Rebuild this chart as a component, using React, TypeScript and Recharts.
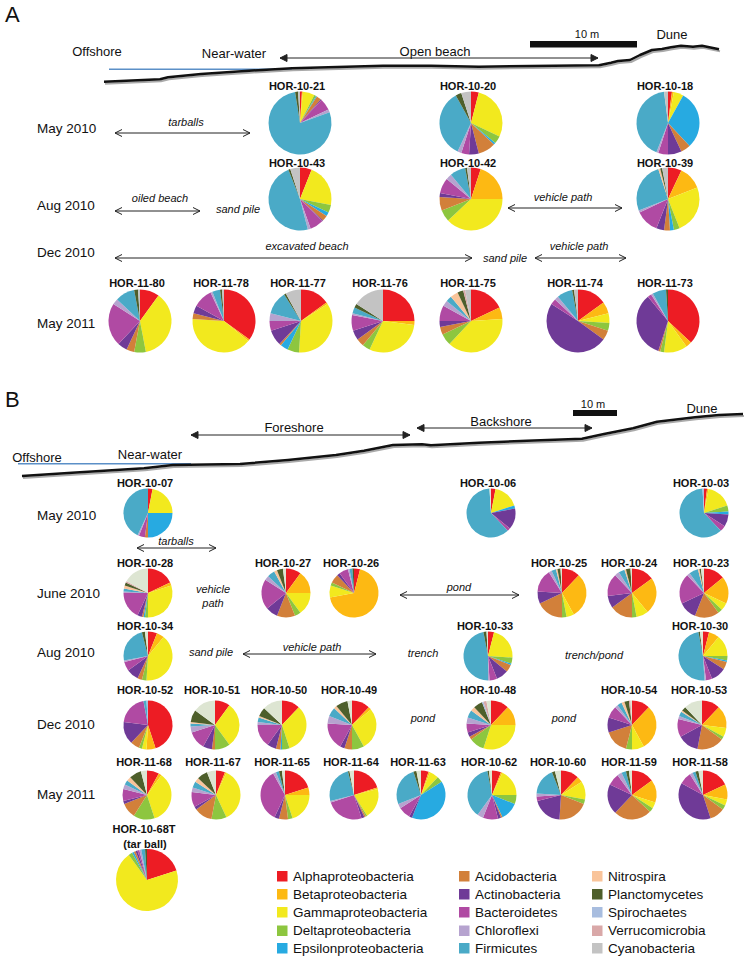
import React from 'react';
import { PieChart, Pie, Cell } from 'recharts';

const CATEGORIES = [
  'Alphaproteobacteria', 'Betaproteobacteria', 'Gammaproteobacteria', 'Deltaproteobacteria',
  'Epsilonproteobacteria', 'Acidobacteria', 'Actinobacteria', 'Bacteroidetes', 'Chloroflexi',
  'Firmicutes', 'Nitrospira', 'Planctomycetes', 'Spirochaetes', 'Verrucomicrobia', 'Cyanobacteria',
];

const COLORS = [
  '#ed1c24', '#fdb913', '#f2e91e', '#8dc63f', '#27aae1', '#d2803a', '#6f3a97', '#b04aa3',
  '#b6a3cf', '#4aaac7', '#f9c49a', '#4e5f2b', '#a8bddf', '#d9a8a8', '#c3c3c3',
];
// panel B draws cyanobacteria in a paler, greenish grey
const CYANO_B = '#dde5d2';

// values follow CATEGORIES order (% of reads)
// Panel A
const A_MAY10_NAMES = ['HOR-10-21', 'HOR-10-20', 'HOR-10-18'];
const A_MAY10_VALUES = [
  [1, 0.5, 6, 1, 0.5, 2.5, 0.5, 6, 1.5, 78, 0, 1.5, 0, 0, 1],
  [4, 0, 28, 4, 1, 9, 5, 4, 2, 35, 0, 3, 0, 0, 5],
  [2, 1, 5, 0, 30, 5, 7, 5, 1, 42, 0, 0, 0, 0, 2],
];
const A_AUG10_NAMES = ['HOR-10-43', 'HOR-10-42', 'HOR-10-39'];
const A_AUG10_VALUES = [
  [6, 0, 22, 4, 2, 3, 0.5, 7, 1.5, 48, 0, 1, 0, 0, 5],
  [5, 20, 38, 6, 0, 7, 2, 8, 3, 8, 0, 1, 0, 0, 2],
  [7, 12, 25, 3, 2, 3, 4, 12, 1, 26, 1, 1, 0, 0, 3],
];
const A_MAY11_NAMES = ['HOR-11-80', 'HOR-11-78', 'HOR-11-77', 'HOR-11-76', 'HOR-11-75', 'HOR-11-74', 'HOR-11-73'];
const A_MAY11_VALUES = [
  [10, 0, 37, 6, 0, 4, 5, 22, 3, 10, 0, 2, 0, 0, 1],
  [35, 1, 40, 0, 0, 3, 4, 10, 1, 4, 0, 1, 0, 0, 1],
  [15, 1, 35, 6, 4, 1, 8, 5, 4, 12, 0, 1, 0, 0, 8],
  [25, 2, 30, 4, 0, 4, 5, 8, 1, 3, 0, 2, 0, 0, 16],
  [18, 6, 38, 6, 0, 4, 3, 8, 3, 3, 4, 3, 0, 1, 3],
  [15, 6, 5, 4, 0, 5, 49, 3, 2, 8, 0, 1, 0, 0, 2],
  [37, 3, 12, 2, 0, 1, 34, 2, 1, 7, 0, 1, 0, 0, 0],
];

// Panel B
const B_MAY10_NAMES = ['HOR-10-07', 'HOR-10-06', 'HOR-10-03'];
const B_MAY10_VALUES = [
  [3, 0, 22, 0, 25, 2, 0, 4, 1, 43, 0, 0, 0, 0, 0],
  [3, 0, 17, 0, 2, 0, 14, 2, 0, 61, 0, 0, 0, 0, 1],
  [2, 1, 17, 4, 2, 0, 8, 4, 0, 61, 0, 0, 1, 0, 0],
];
const B_JUN10_NAMES = ['HOR-10-28', 'HOR-10-27', 'HOR-10-26', 'HOR-10-25', 'HOR-10-24', 'HOR-10-23'];
const B_JUN10_VALUES = [
  [18, 2, 30, 2, 1, 1, 3, 18, 1, 2, 2, 2, 0, 1, 17],
  [10, 15, 15, 4, 0, 12, 8, 20, 3, 5, 2, 4, 0, 0, 2],
  [4, 68, 8, 2, 0, 6, 2, 6, 1, 2, 0, 1, 0, 0, 0],
  [12, 30, 5, 3, 0, 18, 8, 15, 2, 3, 1, 2, 0, 0, 1],
  [15, 24, 8, 3, 0, 15, 8, 15, 3, 4, 1, 3, 0, 0, 1],
  [14, 18, 5, 3, 0, 16, 12, 20, 2, 6, 1, 1, 0, 0, 2],
];
const B_AUG10_NAMES = ['HOR-10-34', 'HOR-10-33', 'HOR-10-30'];
const B_AUG10_VALUES = [
  [6, 5, 40, 3, 0, 3, 8, 6, 1, 24, 0, 2, 0, 0, 2],
  [4, 0, 22, 4, 1, 5, 8, 5, 1, 47, 0, 2, 0, 0, 1],
  [4, 7, 14, 3, 1, 5, 10, 4, 1, 48, 0, 1, 0, 0, 2],
];
const B_DEC10_NAMES = ['HOR-10-52', 'HOR-10-51', 'HOR-10-50', 'HOR-10-49', 'HOR-10-48', 'HOR-10-54', 'HOR-10-53'];
const B_DEC10_VALUES = [
  [45, 6, 3, 2, 0, 6, 15, 20, 0, 2, 0, 0, 1, 0, 0],
  [10, 0, 30, 10, 0, 2, 6, 12, 4, 2, 1, 8, 0, 0, 15],
  [12, 0, 33, 5, 1, 3, 6, 15, 2, 3, 1, 6, 0, 0, 13],
  [12, 2, 28, 8, 0, 5, 3, 18, 5, 6, 2, 8, 0, 0, 3],
  [12, 13, 30, 10, 0, 2, 3, 6, 4, 5, 3, 6, 1, 2, 3],
  [12, 30, 8, 4, 0, 16, 10, 8, 2, 3, 2, 3, 0, 1, 1],
  [12, 15, 6, 2, 0, 18, 14, 12, 2, 3, 1, 3, 0, 0, 12],
];
const B_MAY11_NAMES = ['HOR-11-68', 'HOR-11-67', 'HOR-11-65', 'HOR-11-64', 'HOR-11-63', 'HOR-10-62', 'HOR-10-60', 'HOR-11-59', 'HOR-11-58'];
const B_MAY11_VALUES = [
  [8, 2, 35, 14, 0, 10, 2, 8, 3, 3, 3, 8, 0, 0, 4],
  [6, 1, 36, 10, 0, 12, 2, 10, 3, 4, 3, 7, 0, 0, 6],
  [20, 5, 20, 3, 0, 6, 3, 35, 2, 2, 0, 2, 0, 0, 2],
  [20, 1, 20, 1, 0, 1, 2, 25, 1, 25, 0, 1, 0, 0, 3],
  [5, 1, 6, 4, 40, 0, 2, 8, 3, 26, 0, 2, 0, 0, 3],
  [6, 1, 18, 6, 12, 1, 2, 10, 4, 37, 0, 1, 0, 0, 2],
  [12, 4, 12, 3, 0, 20, 20, 3, 2, 18, 0, 2, 0, 0, 4],
  [15, 15, 4, 3, 0, 25, 20, 8, 3, 3, 0, 2, 0, 0, 2],
  [18, 10, 4, 3, 0, 10, 38, 8, 2, 2, 0, 2, 0, 0, 3],
];
const B_TAR_NAMES = ['HOR-10-68T'];
const B_TAR_VALUES = [[20, 0, 70, 2, 1, 1, 1, 1, 1, 2, 0, 1, 0, 0, 0]];

type Row = {
  names: string[];
  values: number[][];
  xs: number[];
  cy: number;
  r: number;
  labelY: number;
  panel: 'A' | 'B';
};

const ROWS: Row[] = [
  { names: A_MAY10_NAMES, values: A_MAY10_VALUES, xs: [300, 471, 668], cy: 123, r: 31.5, labelY: 86, panel: 'A' },
  { names: A_AUG10_NAMES, values: A_AUG10_VALUES, xs: [300, 471, 668], cy: 199, r: 31.5, labelY: 163, panel: 'A' },
  { names: A_MAY11_NAMES, values: A_MAY11_VALUES, xs: [140, 224, 301, 383, 471, 578, 668], cy: 321, r: 31.5, labelY: 283, panel: 'A' },
  { names: B_MAY10_NAMES, values: B_MAY10_VALUES, xs: [148, 491, 704], cy: 513, r: 24.5, labelY: 483, panel: 'B' },
  { names: B_JUN10_NAMES, values: B_JUN10_VALUES, xs: [148, 286, 354, 562, 632, 704], cy: 593, r: 24.5, labelY: 563, panel: 'B' },
  { names: B_AUG10_NAMES, values: B_AUG10_VALUES, xs: [148, 488, 703], cy: 656, r: 24.5, labelY: 626, panel: 'B' },
  { names: B_DEC10_NAMES, values: B_DEC10_VALUES, xs: [148, 215, 282, 352, 491, 632, 702], cy: 725, r: 24.5, labelY: 690, panel: 'B' },
  { names: B_MAY11_NAMES, values: B_MAY11_VALUES, xs: [147, 216, 285, 354, 421, 492, 561, 632, 703], cy: 795, r: 24.5, labelY: 762, panel: 'B' },
  { names: B_TAR_NAMES, values: B_TAR_VALUES, xs: [147], cy: 880, r: 31, labelY: 829, panel: 'B' },
];

const FONT = '"Liberation Sans", Arial, Helvetica, sans-serif';

const Arrow = ({ x1, x2, y, filled }: { x1: number; x2: number; y: number; filled?: boolean }) => {
  const w = 7;
  const h = 3.5;
  return (
    <g stroke="#222" strokeWidth={1} fill="none">
      <line x1={x1} y1={y} x2={x2} y2={y} />
      {filled ? (
        <>
          <polygon points={`${x1},${y} ${x1 + w},${y - h} ${x1 + w},${y + h}`} fill="#222" />
          <polygon points={`${x2},${y} ${x2 - w},${y - h} ${x2 - w},${y + h}`} fill="#222" />
        </>
      ) : (
        <>
          <polyline points={`${x1 + w},${y - h} ${x1},${y} ${x1 + w},${y + h}`} />
          <polyline points={`${x2 - w},${y - h} ${x2},${y} ${x2 - w},${y + h}`} />
        </>
      )}
    </g>
  );
};

const T = ({ x, y, children, size = 13, italic, bold, anchor = 'middle' }: any) => (
  <text
    x={x}
    y={y}
    fontSize={size}
    fontStyle={italic ? 'italic' : 'normal'}
    fontWeight={bold ? 'bold' : 'normal'}
    textAnchor={anchor}
    dominantBaseline="central"
    fill="#111"
  >
    {children}
  </text>
);

// beach profiles, hand traced
const PROFILE_A = '104,81.7 160,79.3 168,77.3 201,74 249,70.7 292,68.3 383,65.7 431,65.7 479,66.7 599,65.3 611,62.7 618,61 630,60 640,55 652,50 662,49 671,47.3 681,45.7 693,46.7 702,45.7 719,49.3';
const PROFILE_B = '22,476 72,472.7 144,468.3 173,465 240,464 288,460 336,455 364,450.7 393,445 422,444.3 431,445.3 479,442.7 527,440.7 582,438.7 604,434 633,428.3 657,421.7 695,417.3 719,415 743,414';

const LEGEND_X = [277, 459, 592];
const LEGEND_Y = [876, 894, 912, 930.5, 948];

const Profile = ({ points }: { points: string }) => (
  <g fill="none" strokeLinejoin="round">
    <polyline points={points} stroke="#aaa" strokeWidth={2} transform="translate(1,2)" />
    <polyline points={points} stroke="#111" strokeWidth={2.5} />
  </g>
);

export default function App() {
  const pies = ROWS.flatMap((row) =>
    row.names.map((name, i) => {
      const data = CATEGORIES.map((c, k) => ({
        name: c,
        value: row.values[i][k],
        color: k === 14 && row.panel === 'B' ? CYANO_B : COLORS[k],
      })).filter((d) => d.value > 0);
      return (
        <Pie
          key={name}
          data={data}
          dataKey="value"
          cx={row.xs[i]}
          cy={row.cy}
          outerRadius={row.r}
          startAngle={90}
          endAngle={-270}
          stroke="none"
          isAnimationActive={false}
        >
          {data.map((d) => (
            <Cell key={d.name} fill={d.color} />
          ))}
        </Pie>
      );
    })
  );

  return (
    <div style={{ position: 'absolute', left: 0, top: 0, width: 750, height: 959, background: '#fff', fontFamily: FONT }}>
      <div style={{ position: 'absolute', left: 0, top: 0 }}>
        <PieChart width={750} height={959} margin={{ top: 0, right: 0, bottom: 0, left: 0 }}>
          {pies}
        </PieChart>
      </div>
      <svg width={750} height={959} style={{ position: 'absolute', left: 0, top: 0, fontFamily: FONT }}>
        {/* panel A header */}
        <T x={5} y={14} size={22} anchor="start">A</T>
        <T x={97} y={51} size={13}>Offshore</T>
        <T x={234} y={53} size={13}>Near-water</T>
        <T x={435} y={51} size={13}>Open beach</T>
        <Arrow x1={280} x2={598} y={58} filled />
        <rect x={530} y={41} width={107} height={6.5} fill="#111" />
        <T x={587} y={34} size={11}>10 m</T>
        <T x={672} y={34} size={13}>Dune</T>
        <line x1={109} y1={69.3} x2={292} y2={69.3} stroke="#5b8fc7" strokeWidth={1.5} />
        <Profile points={PROFILE_A} />

        {/* panel A rows */}
        <T x={37} y={128} size={13.5} anchor="start">May 2010</T>
        <T x={186} y={122} size={11} italic>tarballs</T>
        <Arrow x1={115} x2={250} y={133} />
        <T x={37} y={205} size={13.5} anchor="start">Aug 2010</T>
        <T x={160} y={198} size={11} italic>oiled beach</T>
        <Arrow x1={115} x2={200} y={211} />
        <T x={238} y={209} size={11} italic>sand pile</T>
        <T x={563} y={197} size={11} italic>vehicle path</T>
        <Arrow x1={508} x2={622} y={208} />
        <T x={37} y={252} size={13.5} anchor="start">Dec 2010</T>
        <T x={307} y={246} size={11} italic>excavated beach</T>
        <Arrow x1={115} x2={472} y={258} />
        <T x={505} y={258} size={11} italic>sand pile</T>
        <T x={579} y={246} size={11} italic>vehicle path</T>
        <Arrow x1={535} x2={626} y={258} />
        <T x={37} y={323} size={13.5} anchor="start">May 2011</T>

        {/* panel B header */}
        <T x={5} y={399} size={22} anchor="start">B</T>
        <T x={37} y={457} size={13}>Offshore</T>
        <T x={150} y={454} size={13}>Near-water</T>
        <T x={294} y={427} size={13}>Foreshore</T>
        <Arrow x1={191} x2={410} y={435} filled />
        <T x={501} y={421} size={13}>Backshore</T>
        <Arrow x1={417} x2={592} y={428} filled />
        <rect x={573} y={410} width={44} height={6} fill="#111" />
        <T x={593} y={404} size={11}>10 m</T>
        <T x={702} y={408} size={13}>Dune</T>
        <line x1={18} y1={463.7} x2={191} y2={463.7} stroke="#5b8fc7" strokeWidth={1.5} />
        <Profile points={PROFILE_B} />

        {/* panel B rows */}
        <T x={37} y={515} size={13.5} anchor="start">May 2010</T>
        <T x={176} y={541} size={11} italic>tarballs</T>
        <Arrow x1={137} x2={216} y={548} />
        <T x={37} y={593} size={13.5} anchor="start">June 2010</T>
        <T x={213} y={589} size={11} italic>vehicle</T>
        <T x={213} y={603} size={11} italic>path</T>
        <T x={459} y={587} size={11} italic>pond</T>
        <Arrow x1={400} x2={519} y={595} />
        <T x={37} y={652} size={13.5} anchor="start">Aug 2010</T>
        <T x={211} y={652} size={11} italic>sand pile</T>
        <T x={312} y={647} size={11} italic>vehicle path</T>
        <Arrow x1={243} x2={376} y={654} />
        <T x={423} y={653} size={11} italic>trench</T>
        <T x={594} y={655} size={11} italic>trench/pond</T>
        <T x={37} y={724} size={13.5} anchor="start">Dec 2010</T>
        <T x={423} y={718} size={11} italic>pond</T>
        <T x={564} y={718} size={11} italic>pond</T>
        <T x={37} y={794} size={13.5} anchor="start">May 2011</T>

        {/* sample labels */}
        {ROWS.flatMap((row) =>
          row.names.map((name, i) => (
            <T key={name} x={row.xs[i] - 3} y={row.labelY} size={11} bold>
              {name}
            </T>
          ))
        )}
        <T x={145} y={844} size={11} bold>(tar ball)</T>

        {/* legend */}
        {CATEGORIES.map((c, k) => {
          const x = LEGEND_X[Math.floor(k / 5)];
          const y = LEGEND_Y[k % 5];
          return (
            <g key={c}>
              <rect x={x} y={y - 5} width={10.5} height={10.5} fill={COLORS[k]} />
              <T x={x + 16} y={y} size={13.5} anchor="start">{c}</T>
            </g>
          );
        })}
      </svg>
    </div>
  );
}
